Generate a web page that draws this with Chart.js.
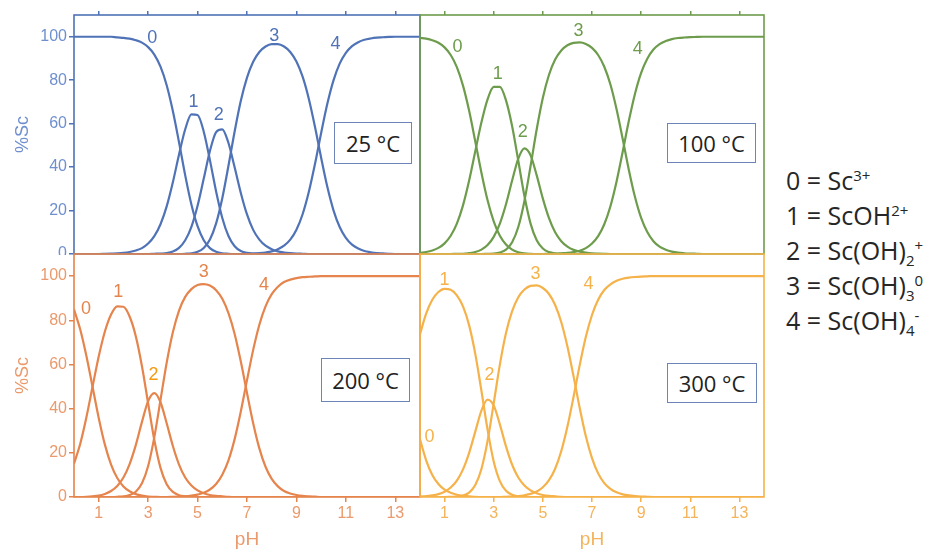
<!DOCTYPE html>
<html>
<head>
<meta charset="utf-8">
<script src="https://cdn.jsdelivr.net/npm/chart.js@4.4.0/dist/chart.umd.min.js"></script>
<style>
html,body{margin:0;padding:0;background:#fff;}
#wrap{position:relative;width:937px;height:551px;overflow:hidden;background:#fff;}
canvas.pc{position:absolute;}
.tbox{position:absolute;z-index:5;background:#fff;border:1.5px solid #6d84b8;box-sizing:border-box;
  font-family:'Open Sans',sans-serif;font-size:22px;color:#222;display:flex;align-items:center;justify-content:center;}
#legend{position:absolute;z-index:5;left:786px;top:163px;font-family:'Open Sans',sans-serif;font-size:25px;line-height:35px;color:#262626;white-space:nowrap;}
#legend sup,#legend sub{font-size:60%;line-height:0;}
</style>
</head>
<body>
<div id="wrap">
  <canvas id="c25" class="pc" width="421" height="255" style="left:0;top:0"></canvas>
  <canvas id="c100" class="pc" width="346" height="255" style="left:419px;top:0"></canvas>
  <canvas id="c200" class="pc" width="421" height="298" style="left:0;top:253px"></canvas>
  <canvas id="c300" class="pc" width="346" height="298" style="left:419px;top:253px"></canvas>
  <div class="tbox" id="t25" style="left:334px;top:122px;width:78px;height:42px"></div>
  <div class="tbox" id="t100" style="left:667px;top:123px;width:89px;height:40px"></div>
  <div class="tbox" id="t200" style="left:321px;top:358px;width:89px;height:44px"></div>
  <div class="tbox" id="t300" style="left:667px;top:363px;width:90px;height:40px"></div>
  <div id="legend">
    <div>0 = Sc<sup>3+</sup></div>
    <div>1 = ScOH<sup>2+</sup></div>
    <div>2 = Sc(OH)<sub>2</sub><sup>+</sup></div>
    <div>3 = Sc(OH)<sub>3</sub><sup>0</sup></div>
    <div>4 = Sc(OH)<sub>4</sub><sup>-</sup></div>
  </div>
</div>
<script>
// ---------- data ----------
const pH = [0,0.25,0.5,0.75,1,1.25,1.5,1.75,2,2.25,
  2.5,2.75,3,3.25,3.5,3.75,4,4.25,4.5,4.75,
  5,5.25,5.5,5.75,6,6.25,6.5,6.75,7,7.25,
  7.5,7.75,8,8.25,8.5,8.75,9,9.25,9.5,9.75,
  10,10.25,10.5,10.75,11,11.25,11.5,11.75,12,12.25,
  12.5,12.75,13,13.25,13.5,13.75,14];
const xTickValues = [1,3,5,7,9,11,13];
const yTickValues = [0,20,40,60,80,100];
const speciesLabels = ['0','1','2','3','4'];
const temperatures = ['25 °C','100 °C','200 °C','300 °C'];

// 25 °C
const sc25_0 = [100,100,100,100,100,100,100,99.7,99.5,99.1,
  98.4,97.3,95.2,91.8,86.2,77.7,65.8,51.4,36.2,22.8,
  12.8,6.3,2.7,1.0,0.3,0.1,0,0,0,0,
  0,0,0,0,0,0,0,0,0,0,
  0,0,0,0,0,0,0,0,0,0,
  0,0,0,0,0,0,0];
const sc25_1 = [0,0,0,0,0,0.1,0.2,0.3,0.5,0.9,
  1.6,2.7,4.8,8.2,13.7,21.9,33.0,45.8,57.4,64.3,
  64.0,56.3,43.2,28.8,16.6,8.3,3.6,1.4,0.5,0.2,
  0.1,0,0,0,0,0,0,0,0,0,
  0,0,0,0,0,0,0,0,0,0,
  0,0,0,0,0,0,0];
const sc25_2 = [0,0,0,0,0,0,0,0,0,0,
  0,0,0,0.1,0.2,0.4,1.1,2.8,6.3,12.5,
  22.2,34.7,47.4,56.1,57.4,51.1,39.9,28.1,18.2,11.1,
  6.6,3.8,2.2,1.2,0.7,0.4,0.2,0.1,0,0,
  0,0,0,0,0,0,0,0,0,0,
  0,0,0,0,0,0,0];
const sc25_3 = [0,0,0,0,0,0,0,0,0,0,
  0,0,0,0,0,0,0,0,0.1,0.3,
  1.0,2.8,6.7,14.1,25.7,40.6,56.4,70.5,81.2,88.5,
  93.0,95.5,96.6,96.6,95.5,93.0,88.6,81.6,71.5,58.6,
  44.3,30.9,20.1,12.4,7.4,4.3,2.5,1.4,0.8,0.4,
  0.25,0.1,0,0,0,0,0];
const sc25_4 = [0,0,0,0,0,0,0,0,0,0,
  0,0,0,0,0,0,0,0,0,0,
  0,0,0,0,0,0,0,0,0.1,0.2,
  0.4,0.7,1.2,2.2,3.8,6.6,11.2,18.3,28.5,41.4,
  55.7,69.1,79.9,87.6,92.6,95.7,97.5,98.6,99.2,99.6,
  99.75,99.9,100,100,100,100,100];

// 100 °C
const sc100_0 = [99.5,99.1,98.4,97.2,95.1,91.6,86.0,77.5,65.9,51.8,
  37.4,24.7,15.0,8.4,4.4,2.0,0.8,0.3,0.1,0,
  0,0,0,0,0,0,0,0,0,0,
  0,0,0,0,0,0,0,0,0,0,
  0,0,0,0,0,0,0,0,0,0,
  0,0,0,0,0,0,0];
const sc100_1 = [0.5,0.9,1.6,2.8,4.9,8.4,14.0,22.4,33.8,47.3,
  60.6,71.2,76.9,76.9,70.7,58.8,42.9,26.7,14.0,6.3,
  2.5,0.9,0.3,0.1,0,0,0,0,0,0,
  0,0,0,0,0,0,0,0,0,0,
  0,0,0,0,0,0,0,0,0,0,
  0,0,0,0,0,0,0];
const sc100_2 = [0,0,0,0,0,0,0.1,0.1,0.4,0.9,
  2.0,4.1,7.9,14.0,22.9,33.8,43.9,48.6,45.4,36.2,
  25.5,16.5,10.0,5.9,3.4,1.9,1.1,0.6,0.3,0.2,
  0.1,0,0,0,0,0,0,0,0,0,
  0,0,0,0,0,0,0,0,0,0,
  0,0,0,0,0,0,0];
const sc100_3 = [0,0,0,0,0,0,0,0,0,0,
  0,0.1,0.2,0.7,2.0,5.4,12.4,24.4,40.5,57.4,
  71.9,82.5,89.5,93.7,96.1,97.2,97.4,96.7,94.9,91.6,
  86.2,78.0,66.6,52.9,38.7,26.2,16.6,10.1,5.9,3.4,
  2.0,1.1,0.6,0.35,0.2,0.1,0,0,0,0,
  0,0,0,0,0,0,0];
const sc100_4 = [0,0,0,0,0,0,0,0,0,0,
  0,0,0,0,0,0,0,0,0,0,
  0,0.1,0.1,0.3,0.5,0.9,1.5,2.7,4.8,8.2,
  13.7,22.0,33.4,47.1,61.3,73.8,83.4,89.9,94.1,96.6,
  98.0,98.9,99.4,99.65,99.8,99.9,100,100,100,100,
  100,100,100,100,100,100,100];

// 200 °C
const sc200_0 = [84.9,75.9,63.9,49.9,35.8,23.7,14.7,8.6,4.8,2.6,
  1.3,0.6,0.2,0.1,0,0,0,0,0,0,
  0,0,0,0,0,0,0,0,0,0,
  0,0,0,0,0,0,0,0,0,0,
  0,0,0,0,0,0,0,0,0,0,
  0,0,0,0,0,0,0];
const sc200_1 = [15.1,24.0,36.0,49.9,63.6,74.9,82.6,86.3,86.1,81.7,
  72.8,59.2,42.4,25.8,13.2,5.8,2.3,0.8,0.3,0.1,
  0,0,0,0,0,0,0,0,0,0,
  0,0,0,0,0,0,0,0,0,0,
  0,0,0,0,0,0,0,0,0,0,
  0,0,0,0,0,0,0];
const sc200_2 = [0,0,0.1,0.3,0.6,1.4,2.7,5.0,8.8,14.9,
  23.5,34.0,43.4,47.0,42.9,33.4,23.1,14.7,8.8,5.2,
  3.0,1.7,0.9,0.5,0.3,0.1,0,0,0,0,
  0,0,0,0,0,0,0,0,0,0,
  0,0,0,0,0,0,0,0,0,0,
  0,0,0,0,0,0,0];
const sc200_3 = [0,0,0,0,0,0,0,0.1,0.3,0.9,
  2.4,6.2,14.0,27.1,43.9,60.8,74.6,84.4,90.6,94.1,
  96.0,96.4,95.7,93.6,89.7,83.2,73.8,61.3,47.1,33.4,
  22.0,13.7,8.2,4.8,2.7,1.6,0.9,0.5,0.3,0.15,
  0,0,0,0,0,0,0,0,0,0,
  0,0,0,0,0,0,0];
const sc200_4 = [0,0,0,0,0,0,0,0,0,0,
  0,0,0,0,0,0,0.1,0.2,0.3,0.6,
  1.1,1.9,3.4,5.9,10.1,16.6,26.2,38.7,52.9,66.6,
  78.0,86.3,91.8,95.2,97.3,98.4,99.1,99.5,99.7,99.85,
  100,100,100,100,100,100,100,100,100,100,
  100,100,100,100,100,100,100];

// 300 °C
const sc300_0 = [26.1,16.6,10.0,5.9,3.3,1.9,1.0,0.5,0.3,0.1,
  0,0,0,0,0,0,0,0,0,0,
  0,0,0,0,0,0,0,0,0,0,
  0,0,0,0,0,0,0,0,0,0,
  0,0,0,0,0,0,0,0,0,0,
  0,0,0,0,0,0,0];
const sc300_1 = [73.7,83.0,89.3,92.8,94.2,93.8,91.3,86.3,77.7,64.8,
  48.1,30.5,16.1,7.2,2.8,1.0,0.3,0.1,0,0,
  0,0,0,0,0,0,0,0,0,0,
  0,0,0,0,0,0,0,0,0,0,
  0,0,0,0,0,0,0,0,0,0,
  0,0,0,0,0,0,0];
const sc300_2 = [0.2,0.4,0.7,1.3,2.4,4.3,7.4,12.5,20.0,29.6,
  39.1,44.1,41.4,32.9,22.9,14.6,8.8,5.2,3.0,1.7,
  0.9,0.5,0.3,0.1,0,0,0,0,0,0,
  0,0,0,0,0,0,0,0,0,0,
  0,0,0,0,0,0,0,0,0,0,
  0,0,0,0,0,0,0];
const sc300_3 = [0,0,0,0,0,0.1,0.2,0.7,2.0,5.4,
  12.7,25.4,42.4,59.9,74.2,84.1,90.4,93.9,95.6,95.8,
  94.6,91.9,86.9,79.1,68.1,54.6,40.3,27.5,17.6,10.7,
  6.3,3.7,2.1,1.2,0.7,0.4,0.2,0.1,0,0,
  0,0,0,0,0,0,0,0,0,0,
  0,0,0,0,0,0,0];
const sc300_4 = [0,0,0,0,0,0,0,0,0,0,
  0,0,0,0,0.1,0.2,0.4,0.8,1.4,2.5,
  4.4,7.6,12.8,20.8,31.9,45.4,59.7,72.5,82.4,89.3,
  93.7,96.3,97.9,98.8,99.3,99.6,99.8,99.9,100,100,
  100,100,100,100,100,100,100,100,100,100,
  100,100,100,100,100,100,100];

// ---------- layout / style ----------
const panels = [
  { canvas:'c25', box:'t25', temp:temperatures[0], series:[sc25_0,sc25_1,sc25_2,sc25_3,sc25_4],
    color:'#4f73b6', text:'#6f8fce', left:true, top:true, bottom:false,
    pad:{left:0,right:1,top:0,bottom:1},
    labelAt:[[3.17,99.5],[4.84,69.9],[5.86,63.9],[8.1,100.5],[10.58,96.8]],
    labelColors:['#4f73b6','#4f73b6','#4f73b6','#4f73b6','#4f73b6'] },
  { canvas:'c100', box:'t100', temp:temperatures[1], series:[sc100_0,sc100_1,sc100_2,sc100_3,sc100_4],
    color:'#6d9c4c', text:'#6d9c4c', left:false, top:true, bottom:false,
    pad:{left:1,right:1,top:0,bottom:1},
    labelAt:[[1.53,95.4],[3.16,82.9],[4.18,56.0],[6.45,102.8],[8.86,94.4]],
    labelColors:['#6d9c4c','#6d9c4c','#6d9c4c','#6d9c4c','#6d9c4c'] },
  { canvas:'c200', box:'t200', temp:temperatures[2], series:[sc200_0,sc200_1,sc200_2,sc200_3,sc200_4],
    color:'#e5844c', text:'#ea9a6c', left:true, top:false, bottom:true,
    pad:{left:0,right:1,top:1,bottom:0},
    labelAt:[[0.49,84.9],[1.79,92.6],[3.22,55.3],[5.25,101.7],[7.69,95.8]],
    labelColors:['#e5844c','#e5844c','#f39a12','#e5844c','#e5844c'] },
  { canvas:'c300', box:'t300', temp:temperatures[3], series:[sc300_0,sc300_1,sc300_2,sc300_3,sc300_4],
    color:'#f6b24a', text:'#f3b45c', left:false, top:false, bottom:true,
    pad:{left:1,right:1,top:1,bottom:0},
    labelAt:[[0.39,27.1],[1.0,98.0],[2.83,55.3],[4.7,100.8],[6.86,96.2]],
    labelColors:['#f6b24a','#f6b24a','#f6b24a','#f6b24a','#f6b24a'] }
];

const tickFont = {family:'Liberation Sans, Arial, sans-serif', size:16};

panels.forEach((p) => {
  document.getElementById(p.box).textContent = p.temp;
  const framePlugin = {
    id:'frame',
    beforeDatasetsDraw(chart){
      const a = chart.chartArea, ctx = chart.ctx;
      ctx.save();
      ctx.strokeStyle = p.color;
      ctx.lineWidth = 1.6;
      ctx.strokeRect(a.left, a.top, a.right - a.left, a.bottom - a.top);
      ctx.restore();
    }
  };
  const labelPlugin = {
    id:'curveLabels',
    afterDatasetsDraw(chart){
      const ctx = chart.ctx, xs = chart.scales.x, ys = chart.scales.y;
      ctx.save();
      ctx.font = '18px "Liberation Sans", Arial, sans-serif';
      ctx.textAlign = 'center';
      ctx.textBaseline = 'middle';
      speciesLabels.forEach((t, i) => {
        const pos = p.labelAt[i];
        ctx.fillStyle = p.labelColors[i];
        ctx.fillText(t, xs.getPixelForValue(pos[0]), ys.getPixelForValue(pos[1]));
      });
      ctx.restore();
    }
  };
  new Chart(document.getElementById(p.canvas), {
    type:'line',
    data:{
      datasets: p.series.map((arr) => ({
        data: pH.map((x, i) => ({x: x, y: arr[i]})),
        xAxisID:'x', yAxisID:'y',
        borderColor: p.color, borderWidth: 2.2,
        pointRadius: 0, fill: false,
        cubicInterpolationMode: 'monotone'
      }))
    },
    options:{
      responsive:false, animation:false, devicePixelRatio:1,
      layout:{padding:p.pad},
      plugins:{legend:{display:false}, tooltip:{enabled:false}},
      scales:{
        x:{
          type:'linear', min:0, max:14, position:'bottom', display:p.bottom,
          afterBuildTicks:(s) => { s.ticks = xTickValues.map(v => ({value:v})); },
          afterFit:(s) => { s.height = p.bottom ? 54 : 0; s.width = p.bottom ? s.width : 0; s.paddingLeft = 0; s.paddingRight = 0; },
          ticks:{color:p.text, font:tickFont, padding:2, maxRotation:0, autoSkip:false},
          grid:{display:true, drawOnChartArea:false, drawTicks:true, tickLength:5, color:p.color, lineWidth:1.5},
          border:{display:false},
          title:{display:true, text:'pH', color:p.text, font:{family:'Liberation Sans, Arial, sans-serif', size:19}, padding:{top:0,bottom:0}}
        },
        xt:{
          type:'linear', min:0, max:14, position:'top', display:p.top,
          afterBuildTicks:(s) => { s.ticks = xTickValues.map(v => ({value:v})); },
          afterFit:(s) => { s.height = p.top ? 15 : 0; s.paddingLeft = 0; s.paddingRight = 0; },
          ticks:{display:false},
          grid:{display:true, drawOnChartArea:false, drawTicks:true, tickLength:4, color:p.color, lineWidth:1.5},
          border:{display:false}
        },
        y:{
          type:'linear', min:0, max:110, position:'left', display:p.left,
          afterBuildTicks:(s) => { s.ticks = yTickValues.map(v => ({value:v})); },
          afterFit:(s) => { s.width = p.left ? 74 : 0; s.paddingTop = 0; s.paddingBottom = 0; },
          ticks:{color:p.text, font:tickFont, padding:2},
          grid:{display:true, drawOnChartArea:false, drawTicks:true, tickLength:5, color:p.color, lineWidth:1.5},
          border:{display:false},
          title:{display:true, text:'%Sc', color:p.text, font:{family:'Liberation Sans, Arial, sans-serif', size:18}, padding:{top:12,bottom:0}}
        }
      }
    },
    plugins:[framePlugin, labelPlugin]
  });
});
</script>
</body>
</html>
